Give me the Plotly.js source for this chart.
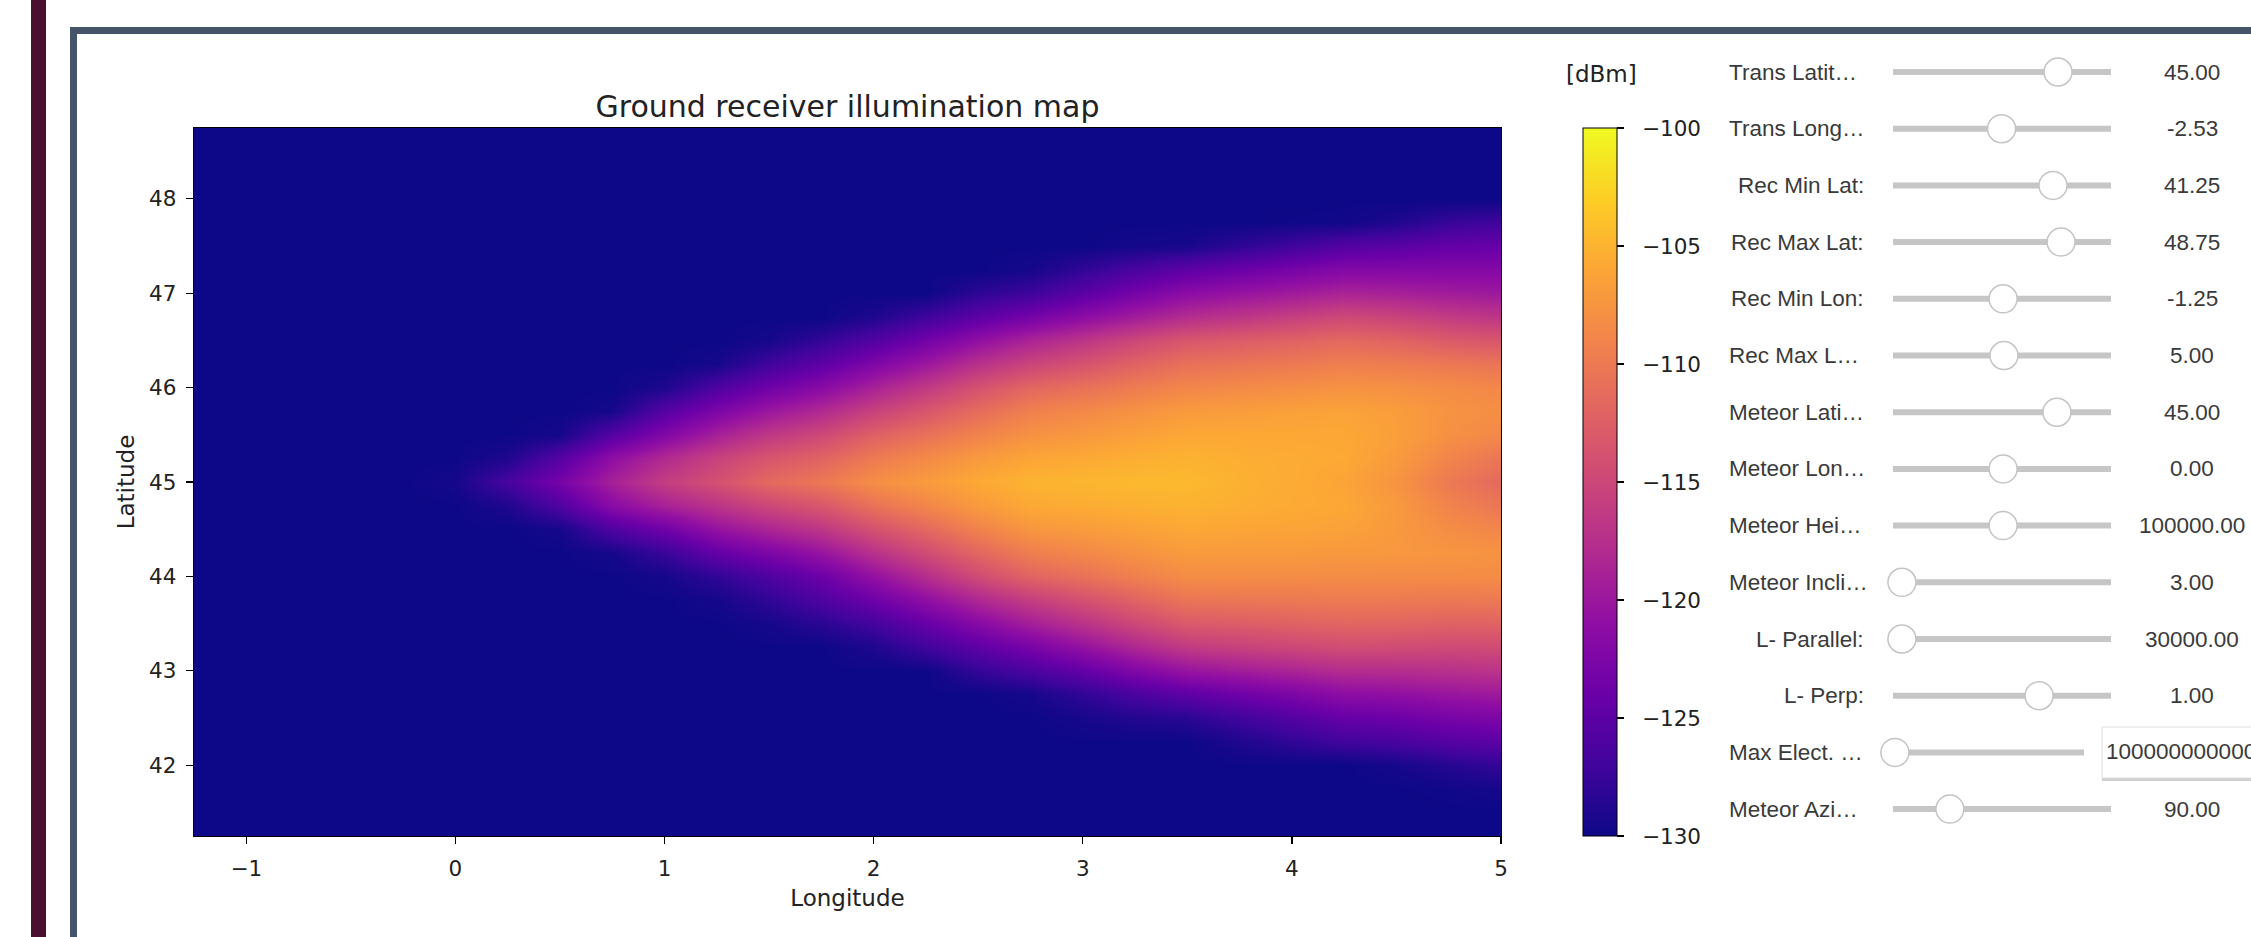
<!DOCTYPE html>
<html>
<head>
<meta charset="utf-8">
<script src="https://cdn.plot.ly/plotly-3.0.1.min.js"></script>
<style>
html,body{margin:0;padding:0;background:#ffffff;overflow:hidden}
#chart{width:2251px;height:937px}
</style>
</head>
<body>
<div id="chart"></div>
<script>
// ---------------- data ----------------
const lonValues = [-1.25,-1,-0.75,-0.5,-0.25,0,0.25,0.5,0.75,1,1.25,1.5,1.75,2,2.25,2.5,2.75,3,3.25,3.5,3.75,4,4.25,4.5,4.75,5];
const latValues = [41.25,41.5,41.75,42,42.25,42.5,42.75,43,43.25,43.5,43.75,44,44.25,44.5,44.75,45,45.25,45.5,45.75,46,46.25,46.5,46.75,47,47.25,47.5,47.75,48,48.25,48.5,48.75];
// received power [dBm], one row per latitude (ascending), one column per longitude
const powerDbm = [
[-130,-130,-130,-130,-130,-130,-130,-130,-130,-130,-130,-130,-130,-130,-130,-130,-130,-130,-130,-130,-130,-130,-130,-130,-130,-130],
[-130,-130,-130,-130,-130,-130,-130,-130,-130,-130,-130,-130,-130,-130,-130,-130,-130,-130,-130,-130,-130,-130,-130,-130,-130,-130],
[-130,-130,-130,-130,-130,-130,-130,-130,-130,-130,-130,-130,-130,-130,-130,-130,-130,-130,-130,-130,-130,-130,-130,-130,-129.8,-129.5],
[-130,-130,-130,-130,-130,-130,-130,-130,-130,-130,-130,-130,-130,-130,-130,-130,-130,-130,-130,-130,-130,-130,-130,-129.5,-128.6,-127.8],
[-130,-130,-130,-130,-130,-130,-130,-130,-130,-130,-130,-130,-130,-130,-130,-130,-130,-130,-130,-130,-129,-128,-127,-126.5,-125.6,-125],
[-130,-130,-130,-130,-130,-130,-130,-130,-130,-130,-130,-130,-130,-130,-130,-130,-130,-129.4,-128.8,-128.4,-127,-125.7,-124.3,-123.9,-123,-122.5],
[-130,-130,-130,-130,-130,-130,-130,-130,-130,-130,-130,-130,-130,-130,-130,-130,-129.5,-128,-126.3,-124.9,-123.6,-122.5,-121.2,-120.9,-120.2,-119.7],
[-130,-130,-130,-130,-130,-130,-130,-130,-130,-130,-130,-130,-130,-130,-130,-127.8,-126.3,-124.5,-122.3,-120.4,-119.5,-118.7,-117.8,-117.7,-117.4,-117],
[-130,-130,-130,-130,-130,-130,-130,-130,-130,-130,-130,-130,-130,-129,-127,-124.9,-122.9,-120.6,-118.3,-116.3,-115.6,-115,-114.4,-114.5,-114.7,-114.6],
[-130,-130,-130,-130,-130,-130,-130,-130,-130,-130,-130,-129.5,-128.4,-126.8,-124.3,-121.7,-119.3,-117.2,-115,-113.1,-112.8,-112.3,-111.9,-112,-112.3,-112.2],
[-130,-130,-130,-130,-130,-130,-130,-130,-130,-130,-129.5,-128,-126.1,-123.7,-121,-118.3,-116,-114,-112.1,-110.4,-110.2,-110.1,-109.9,-110,-110.1,-110],
[-130,-130,-130,-130,-130,-130,-130,-130,-130,-129.5,-128,-126,-123.8,-120.6,-117.6,-114.5,-112,-110.7,-109.4,-108.2,-108.2,-108.3,-108.3,-108.3,-108.3,-108.3],
[-130,-130,-130,-130,-130,-130,-130,-130,-129.5,-127.5,-124.5,-122.5,-120.4,-117.3,-114.5,-111.8,-109.6,-108.7,-107.8,-107,-107.1,-107.1,-107.2,-107.3,-107.5,-107.7],
[-130,-130,-130,-130,-130,-130,-130,-129.5,-126,-123.5,-120.5,-118.5,-116.7,-113.9,-111.6,-109.2,-107.4,-106.9,-106.4,-105.9,-106.1,-106.2,-106.4,-107.1,-108.2,-108.9],
[-130,-130,-130,-130,-130,-130,-129,-126,-121.5,-119,-117,-115,-113.4,-110.7,-108.9,-107.1,-105.8,-105.6,-105.3,-105.1,-105.4,-105.7,-105.9,-107.1,-109.1,-110.3],
[-130,-130,-130,-130,-130,-129.5,-126.5,-123,-119,-116,-114,-111.5,-110.2,-108.1,-107,-105.8,-105,-104.8,-104.6,-104.6,-105.2,-105.6,-106.2,-107.6,-110,-111.5],
[-130,-130,-130,-130,-130,-130,-129,-125.5,-121,-118,-115.5,-113.5,-112.1,-109.9,-108.5,-107.1,-106.1,-105.8,-105.4,-105.1,-105.4,-105.6,-105.8,-107,-109,-110.3],
[-130,-130,-130,-130,-130,-130,-130,-129.5,-125.5,-122,-119,-116.5,-114.8,-112.3,-110.7,-109.1,-107.8,-107.2,-106.5,-105.9,-105.9,-105.9,-105.9,-106.6,-107.9,-108.7],
[-130,-130,-130,-130,-130,-130,-130,-130,-129.5,-125.5,-122.5,-120,-118.1,-115.5,-113.4,-111.2,-109.4,-108.6,-107.8,-107,-106.8,-106.5,-106.3,-106.8,-107.7,-108.1],
[-130,-130,-130,-130,-130,-130,-130,-130,-130,-129,-126,-123.5,-121.5,-118.8,-116.3,-113.8,-111.7,-110.7,-109.7,-108.8,-108.4,-108.1,-107.7,-107.9,-108.3,-108.7],
[-130,-130,-130,-130,-130,-130,-130,-130,-130,-130,-129.5,-127,-124.9,-122.3,-119.9,-117.3,-115.2,-113.7,-112.1,-110.8,-110.4,-110,-109.5,-109.7,-110.1,-110.5],
[-130,-130,-130,-130,-130,-130,-130,-130,-130,-130,-130,-129.5,-127.9,-125.8,-123.4,-120.9,-118.7,-116.9,-115,-113.4,-112.8,-112.2,-111.6,-112.1,-113,-113.5],
[-130,-130,-130,-130,-130,-130,-130,-130,-130,-130,-130,-130,-130,-129,-127.1,-125,-123.1,-121.2,-119.4,-117.7,-116.7,-115.8,-114.8,-115.3,-116.2,-116.8],
[-130,-130,-130,-130,-130,-130,-130,-130,-130,-130,-130,-130,-130,-130,-130,-128.2,-127.2,-125.1,-123.1,-121.3,-120.4,-119.6,-118.7,-119,-119.5,-119.8],
[-130,-130,-130,-130,-130,-130,-130,-130,-130,-130,-130,-130,-130,-130,-130,-130,-129.5,-127.9,-126.3,-124.8,-123.8,-122.9,-121.9,-121.9,-121.9,-121.9],
[-130,-130,-130,-130,-130,-130,-130,-130,-130,-130,-130,-130,-130,-130,-130,-130,-130,-130,-129.6,-129.4,-128.1,-127,-125.7,-125.2,-124.4,-124.2],
[-130,-130,-130,-130,-130,-130,-130,-130,-130,-130,-130,-130,-130,-130,-130,-130,-130,-130,-130,-130,-130,-129.9,-129.8,-129,-127.6,-127],
[-130,-130,-130,-130,-130,-130,-130,-130,-130,-130,-130,-130,-130,-130,-130,-130,-130,-130,-130,-130,-130,-130,-130,-130,-130,-130],
[-130,-130,-130,-130,-130,-130,-130,-130,-130,-130,-130,-130,-130,-130,-130,-130,-130,-130,-130,-130,-130,-130,-130,-130,-130,-130],
[-130,-130,-130,-130,-130,-130,-130,-130,-130,-130,-130,-130,-130,-130,-130,-130,-130,-130,-130,-130,-130,-130,-130,-130,-130,-130],
[-130,-130,-130,-130,-130,-130,-130,-130,-130,-130,-130,-130,-130,-130,-130,-130,-130,-130,-130,-130,-130,-130,-130,-130,-130,-130]
];
const xTicks = [-1,0,1,2,3,4,5];
const yTicks = [42,43,44,45,46,47,48];
const colorbarTicks = [-130,-125,-120,-115,-110,-105,-100];

// slider widgets
const sliderLabels = ["Trans Latit\u2026","Trans Long\u2026","Rec Min Lat:","Rec Max Lat:","Rec Min Lon:","Rec Max L\u2026","Meteor Lati\u2026","Meteor Lon\u2026","Meteor Hei\u2026","Meteor Incli\u2026","L- Parallel:","L- Perp:","Max Elect. \u2026","Meteor Azi\u2026"];
const sliderValues = ["45.00","-2.53","41.25","48.75","-1.25","5.00","45.00","0.00","100000.00","3.00","30000.00","1.00","100000000000000.00","90.00"];
const sliderPos = [0.757,0.498,0.734,0.771,0.505,0.509,0.752,0.505,0.505,0.041,0.041,0.670,0.010,0.261];

// ---------------- layout helpers ----------------
const W = 2251, H = 937;
const PL = 194, PR = 1501, PT = 128, PB = 836;
const fx = px => (px - PL) / (PR - PL);
const fy = py => (PB - py) / (PB - PT);
const minusFmt = v => (v < 0 ? '\u2212' + Math.abs(v) : String(v));

const plasma = [
  [0.0,'#0d0887'],[0.1,'#41049d'],[0.2,'#6a00a8'],[0.3,'#8f0da4'],[0.4,'#b12a90'],
  [0.5,'#cc4778'],[0.6,'#e16462'],[0.7,'#f2844b'],[0.8,'#fca636'],[0.9,'#fcce25'],[1.0,'#f0f921']
];

const chartFont = 'DejaVu Sans, sans-serif';
const widgetFont = 'Liberation Sans, Arial, sans-serif';
const textCol = '#222222';
const widgetCol = '#3a3a3a';

const shapes = [];
const annotations = [];

// page decoration: maroon bar and slate frame
shapes.push({type:'rect', xref:'paper', yref:'paper', x0:fx(31), x1:fx(46), y0:fy(H), y1:fy(0), fillcolor:'#4a1030', line:{width:0}, layer:'below'});
shapes.push({type:'rect', xref:'paper', yref:'paper', x0:fx(70), x1:fx(77), y0:fy(H), y1:fy(27), fillcolor:'#455468', line:{width:0}, layer:'below'});
shapes.push({type:'rect', xref:'paper', yref:'paper', x0:fx(70), x1:fx(W), y0:fy(34), y1:fy(27), fillcolor:'#455468', line:{width:0}, layer:'below'});

// colorbar unit label
annotations.push({xref:'paper', yref:'paper', x:fx(1601), y:fy(74), text:'[dBm]', showarrow:false, xanchor:'center', yanchor:'middle', font:{family:chartFont, size:23, color:textCol}});

// slider rows
const rowTop = 72, rowStep = 56.7;
const trackL = 1893, trackR = 2111, trackRShort = 2084;
sliderLabels.forEach((lab, i) => {
  const cy = rowTop + rowStep * i;
  const isBox = sliderValues[i].length > 12;
  const tR = isBox ? trackRShort : trackR;
  shapes.push({type:'rect', xref:'paper', yref:'paper', x0:fx(trackL), x1:fx(tR), y0:fy(cy+3), y1:fy(cy-3), fillcolor:'#c6c6c6', line:{width:0}});
  const cx = trackL + sliderPos[i] * (tR - trackL);
  shapes.push({type:'circle', xref:'paper', yref:'paper', x0:fx(cx-14), x1:fx(cx+14), y0:fy(cy+14), y1:fy(cy-14), fillcolor:'#ffffff', line:{color:'#c4c4c4', width:1.5}});
  const truncated = lab.endsWith('\u2026');
  annotations.push({xref:'paper', yref:'paper', x: truncated ? fx(1727) : fx(1866), y:fy(cy), text:lab, showarrow:false,
    xanchor: truncated ? 'left' : 'right', yanchor:'middle', font:{family:widgetFont, size:22.5, color:widgetCol}});
  if (isBox) {
    shapes.push({type:'rect', xref:'paper', yref:'paper', x0:fx(2102), x1:fx(W+20), y0:fy(781), y1:fy(777), fillcolor:'#cfcfcf', line:{width:0}});
    shapes.push({type:'rect', xref:'paper', yref:'paper', x0:fx(2102), x1:fx(W+20), y0:fy(778), y1:fy(727), fillcolor:'#ffffff', line:{color:'#dedede', width:1}});
    annotations.push({xref:'paper', yref:'paper', x:fx(2104), y:fy(cy-1), text:sliderValues[i], showarrow:false,
      xanchor:'left', yanchor:'middle', font:{family:widgetFont, size:22.5, color:widgetCol}});
  } else {
    annotations.push({xref:'paper', yref:'paper', x:fx(2192), y:fy(cy), text:sliderValues[i], showarrow:false,
      xanchor:'center', yanchor:'middle', font:{family:widgetFont, size:22.5, color:widgetCol}});
  }
});

const trace = {
  type:'heatmap',
  x: lonValues, y: latValues, z: powerDbm,
  zmin:-130, zmax:-100, zsmooth:'best',
  colorscale: plasma,
  hoverinfo:'skip',
  colorbar:{
    x: fx(1583), xref:'paper', xanchor:'left', xpad:0,
    y:0.5, yanchor:'middle', ypad:0,
    len:1, lenmode:'fraction', thickness:34, thicknessmode:'pixels',
    outlinewidth:1, outlinecolor:'#000000',
    tickvals: colorbarTicks, ticktext: colorbarTicks.map(v => '\u00a0\u00a0' + minusFmt(v)),
    ticks:'outside', ticklen:7, tickwidth:1.3, tickcolor:'#000000',
    tickfont:{family:chartFont, size:21.5, color:textCol}
  }
};

const axisCommon = {
  ticks:'outside', ticklen:7, tickwidth:1.3, tickcolor:'#000000',
  showline:true, mirror:true, linecolor:'#000000', linewidth:1.3,
  showgrid:false, zeroline:false, automargin:false, fixedrange:true,
  tickfont:{family:chartFont, size:21.5, color:textCol}
};

const layout = {
  width:W, height:H,
  margin:{l:PL, r:W-PR, t:PT, b:H-PB, pad:0},
  paper_bgcolor:'#ffffff', plot_bgcolor:'#ffffff',
  showlegend:false,
  title:{text:'Ground receiver illumination map', x:0.5, xref:'paper', xanchor:'center',
         y:1-106/H, yref:'container', yanchor:'middle',
         font:{family:chartFont, size:30, color:textCol}},
  xaxis:Object.assign({}, axisCommon, {
    range:[-1.25,5], tickvals:xTicks, ticktext:xTicks.map(minusFmt), ticklabelstandoff:6,
    title:{text:'Longitude', font:{family:chartFont, size:23, color:textCol}, standoff:9}
  }),
  yaxis:Object.assign({}, axisCommon, {
    range:[41.25,48.75], tickvals:yTicks, ticktext:yTicks.map(minusFmt), ticklabelstandoff:5,
    title:{text:'Latitude', font:{family:chartFont, size:23, color:textCol}, standoff:8}
  }),
  shapes: shapes,
  annotations: annotations
};

Plotly.newPlot('chart', [trace], layout, {staticPlot:true, displayModeBar:false, responsive:false});
</script>
</body>
</html>
